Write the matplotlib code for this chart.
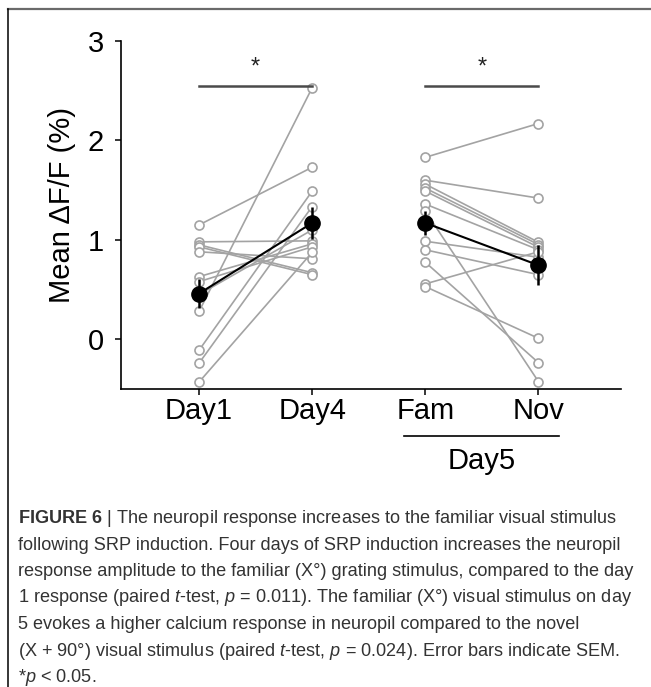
import numpy as np
import matplotlib
matplotlib.use("Agg")
import matplotlib.pyplot as plt
from matplotlib.lines import Line2D

plt.rcParams['font.family'] = ['Liberation Sans', 'DejaVu Sans']
plt.rcParams['mathtext.fontset'] = 'custom'
plt.rcParams['mathtext.rm'] = 'Liberation Sans'
plt.rcParams['mathtext.it'] = 'Liberation Sans:italic'
plt.rcParams['mathtext.bf'] = 'Liberation Sans:bold'

# data (12 mice, paired)
conditions = ["Day1", "Day4", "Fam", "Nov"]
day1 = [1.15, 0.98, 0.95, 0.93, 0.88, 0.63, 0.58, 0.45, 0.28, -0.11, -0.24, -0.43]
day4 = [1.73, 0.99, 0.67, 0.65, 0.81, 0.96, 0.93, 1.10, 2.53, 1.49, 1.335, 0.875]
fam = [1.83, 1.60, 1.56, 1.52, 1.49, 1.36, 1.29, 0.986, 0.90, 0.775, 0.557, 0.53]
nov = [2.17, 1.42, 0.976, 0.953, 0.926, 0.90, -0.425, 0.825, 0.65, -0.235, 0.88, 0.01]
means = [0.46, 1.17, 1.17, 0.745]
sems = [0.15, 0.16, 0.12, 0.20]
sig_pairs = [(0, 1), (2, 3)]
sig_y = 2.55

caption = [
    r"$\mathbf{FIGURE\ 6}$ | The neuropil response increases to the familiar visual stimulus",
    "following SRP induction. Four days of SRP induction increases the neuropil",
    "response amplitude to the familiar (X°) grating stimulus, compared to the day",
    r"1 response (paired $\mathit{t}$-test, $\mathit{p}$ = 0.011). The familiar (X°) visual stimulus on day",
    "5 evokes a higher calcium response in neuropil compared to the novel",
    r"(X + 90°) visual stimulus (paired $\mathit{t}$-test, $\mathit{p}$ = 0.024). Error bars indicate SEM.",
    r"*$\mathit{p}$ < 0.05.",
]

W, H = 651, 687
fig = plt.figure(figsize=(W / 100, H / 100), dpi=100)
ax = fig.add_axes([121 / W, 1 - 389 / H, 500 / W, 348 / H])

x = np.arange(1, 5)
gray = "#a3a3a3"
for a, b in zip(day1, day4):
    ax.plot([1, 2], [a, b], color=gray, lw=1.2, marker="o", mfc="white",
            mec=gray, ms=6.5, mew=1.2, zorder=2)
for a, b in zip(fam, nov):
    ax.plot([3, 4], [a, b], color=gray, lw=1.2, marker="o", mfc="white",
            mec=gray, ms=6.5, mew=1.2, zorder=2)

for seg in [slice(0, 2), slice(2, 4)]:
    ax.errorbar(x[seg], means[seg], yerr=sems[seg], color="black", lw=1.5,
                elinewidth=1.8, capsize=0, marker="o", ms=11, zorder=4)

for i, j in sig_pairs:
    ax.plot([x[i], x[j]], [sig_y, sig_y], color="#4a4a4a", lw=1.8, clip_on=False)
    ax.text((x[i] + x[j]) / 2, 2.67, "*", ha="center", va="baseline",
            fontsize=17, color="#222222")

ax.set_xlim(0.31, 4.73)
ax.set_ylim(-0.5, 3)
ax.set_yticks([0, 1, 2, 3])
ax.set_xticks(x)
ax.set_xticklabels(conditions)
ax.spines[["top", "right"]].set_visible(False)
for s in ["left", "bottom"]:
    ax.spines[s].set_linewidth(1.2)
ax.tick_params(axis="both", length=4.5, width=1.1, labelsize=21)
ax.tick_params(axis="x", pad=1)
ax.tick_params(axis="y", pad=8)

# Day5 grouping under Fam / Nov
tr = ax.get_xaxis_transform()
ax.plot([2.815, 4.18], [-0.135, -0.135], color="black", lw=1.2,
        transform=tr, clip_on=False)
ax.text(3.5, -0.23, "Day5", transform=tr, ha="center", va="baseline", fontsize=21)

fig.text(62 / W, 1 - 205 / H, "Mean ΔF/F (%)", rotation=90, ha="center",
         va="center", fontsize=21)

# outer frame
fig.add_artist(Line2D([7.5 / W, 1], [1 - 8.8 / H] * 2, color="#6a6a6a", lw=1.6))
fig.add_artist(Line2D([7.5 / W] * 2, [0, 1 - 8.8 / H], color="black", lw=1.1))

for k, line in enumerate(caption):
    fig.text(18 / W, 1 - (523 + 26.5 * k) / H, line, fontsize=13.1,
             color="#333333", ha="left", va="baseline")

fig.savefig("out.png", dpi=100)
